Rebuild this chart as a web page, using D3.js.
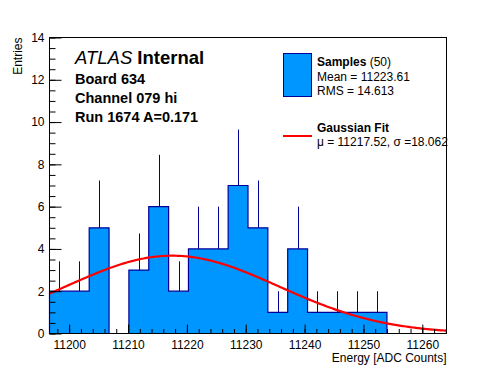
<!DOCTYPE html>
<html>
<head>
<meta charset="utf-8">
<script src="https://cdn.jsdelivr.net/npm/d3@7"></script>
<style>
  body { margin: 0; background: #fff; }
  svg { display: block; font-family: "Liberation Sans", Arial, Helvetica, sans-serif; }
</style>
</head>
<body>
<svg id="scene" width="496" height="372"></svg>
<script>
// histogram: 20 bins between the sample min and max
const histMin = 11196.66;
const histMax = 11264.11;
const counts = [2, 2, 5, 0, 3, 6, 2, 4, 4, 7, 5, 1, 4, 1, 1, 1, 1, 0, 0, 0];

// gaussian fit parameters
const fitMean = 11217.52;
const fitSigma = 18.062;
const fitAmp = 3.68;

const xTicks = [11200, 11210, 11220, 11230, 11240, 11250, 11260];
const yTicks = [0, 2, 4, 6, 8, 10, 12, 14];

const infoLines = ['Board 634', 'Channel 079 hi', 'Run 1674 A=0.171'];
const legendStats = ['Mean = 11223.61', 'RMS = 14.613'];
const fitText = 'μ = 11217.52, σ =18.062';

const fillBlue = '#0096ff';
const navy = '#000099';

const frame = {left: 49.5, right: 446.5, top: 37.5, bottom: 333.5};
const svg = d3.select('#scene');

let x = d3.scaleLinear().domain([histMin, histMax]).range([frame.left, frame.right]);
let y = d3.scaleLinear().domain([0, 14]).range([frame.bottom, frame.top]);

const binW = (histMax - histMin) / counts.length;
const bins = counts.map((c, i) => ({x0: histMin + i * binW, x1: histMin + (i + 1) * binW, n: c}));

// filled histogram
let lastBin = d3.max(bins.filter(b => b.n > 0), b => bins.indexOf(b));
let shown = bins.slice(0, lastBin + 1);
let outline = [];
shown.forEach(function (b) {
	outline.push([x(b.x0), y(b.n)]);
	outline.push([x(b.x1), y(b.n)]);
});
let area = [[x(histMin), y(0)]].concat(outline).concat([[x(shown[shown.length - 1].x1), y(0)]]);

svg.append('path')
	.attr('d', d3.line()(area))
	.attr('fill', fillBlue)
	.attr('stroke', 'none');

// outline: steps, dropping to zero around empty bins
svg.append('path')
	.attr('d', d3.line()(area))
	.attr('fill', 'none')
	.attr('stroke', navy)
	.attr('stroke-width', 1.2);

// error bars (only the part above the bar shows)
svg.selectAll('line.err').data(shown.filter(b => b.n > 0)).enter().append('line')
	.attr('class', 'err')
	.attr('x1', b => Math.round(x((b.x0 + b.x1) / 2)) + 0.5)
	.attr('x2', b => Math.round(x((b.x0 + b.x1) / 2)) + 0.5)
	.attr('y1', b => y(b.n))
	.attr('y2', b => y(b.n + Math.sqrt(b.n)))
	.attr('stroke', navy)
	.attr('stroke-width', 1);

// gaussian fit curve
let fitX = d3.range(histMin, histMax, 0.25).concat([histMax]);
svg.append('path')
	.attr('d', d3.line()
		.x(v => x(v))
		.y(v => y(fitAmp * Math.exp(-0.5 * Math.pow((v - fitMean) / fitSigma, 2))))(fitX))
	.attr('fill', 'none')
	.attr('stroke', '#ff0000')
	.attr('stroke-width', 2.2);

// frame
svg.append('rect')
	.attr('x', frame.left).attr('y', frame.top)
	.attr('width', frame.right - frame.left).attr('height', frame.bottom - frame.top)
	.attr('fill', 'none').attr('stroke', '#000').attr('stroke-width', 1);

// x axis ticks
let xMinor = d3.range(11198, histMax, 2);
svg.append('g').attr('transform', `translate(0,${frame.bottom})`)
	.call(d3.axisBottom(x).tickValues(xMinor).tickSize(-4.5).tickFormat(''))
	.call(g => g.select('.domain').remove());
let gx = svg.append('g').attr('transform', `translate(0,${frame.bottom})`)
	.call(d3.axisBottom(x).tickValues(xTicks).tickSize(-9).tickPadding(7).tickFormat(d3.format('d')))
	.call(g => g.select('.domain').remove());
gx.selectAll('text').attr('font-size', 12).attr('font-family', null);

// y axis ticks
let yMinor = d3.range(0, 14.01, 0.5);
svg.append('g').attr('transform', `translate(${frame.left},0)`)
	.call(d3.axisLeft(y).tickValues(yMinor).tickSize(-6).tickFormat(''))
	.call(g => g.select('.domain').remove());
let gy = svg.append('g').attr('transform', `translate(${frame.left},0)`)
	.call(d3.axisLeft(y).tickValues(yTicks).tickSize(-12).tickPadding(5).tickFormat(d3.format('d')))
	.call(g => g.select('.domain').remove());
gy.selectAll('text').attr('font-size', 12).attr('font-family', null);

// axis titles
svg.append('text')
	.attr('x', frame.right).attr('y', 362)
	.attr('text-anchor', 'end').attr('font-size', 12)
	.text('Energy [ADC Counts]');
svg.append('text')
	.attr('transform', `translate(22,${frame.top}) rotate(-90)`)
	.attr('text-anchor', 'end').attr('font-size', 12)
	.text('Entries');

// ATLAS label and run info
let atlas = svg.append('text').attr('x', 75).attr('y', 64).attr('font-size', 18.5);
atlas.append('tspan').attr('font-style', 'italic').text('ATLAS');
atlas.append('tspan').attr('font-weight', 'bold').text(' Internal');
svg.selectAll('text.info').data(infoLines).enter().append('text')
	.attr('class', 'info')
	.attr('x', 75)
	.attr('y', (d, i) => 84 + i * 19)
	.attr('font-size', 14.5).attr('font-weight', 'bold')
	.text(d => d);

// legend
svg.append('rect')
	.attr('x', 283.5).attr('y', 53.5).attr('width', 28).attr('height', 43)
	.attr('fill', fillBlue).attr('stroke', navy).attr('stroke-width', 1);
let samp = svg.append('text').attr('x', 317).attr('y', 66).attr('font-size', 12);
samp.append('tspan').attr('font-weight', 'bold').text('Samples');
samp.append('tspan').text(' (50)');
svg.selectAll('text.stat').data(legendStats).enter().append('text')
	.attr('class', 'stat')
	.attr('x', 317).attr('y', (d, i) => 81 + i * 14)
	.attr('font-size', 12)
	.text(d => d);
svg.append('line')
	.attr('x1', 283).attr('x2', 312).attr('y1', 136).attr('y2', 136)
	.attr('stroke', '#ff0000').attr('stroke-width', 2);
svg.append('text').attr('x', 317).attr('y', 132)
	.attr('font-size', 12).attr('font-weight', 'bold').text('Gaussian Fit');
svg.append('text').attr('x', 317).attr('y', 146)
	.attr('font-size', 12).text(fitText);
</script>
</body>
</html>
